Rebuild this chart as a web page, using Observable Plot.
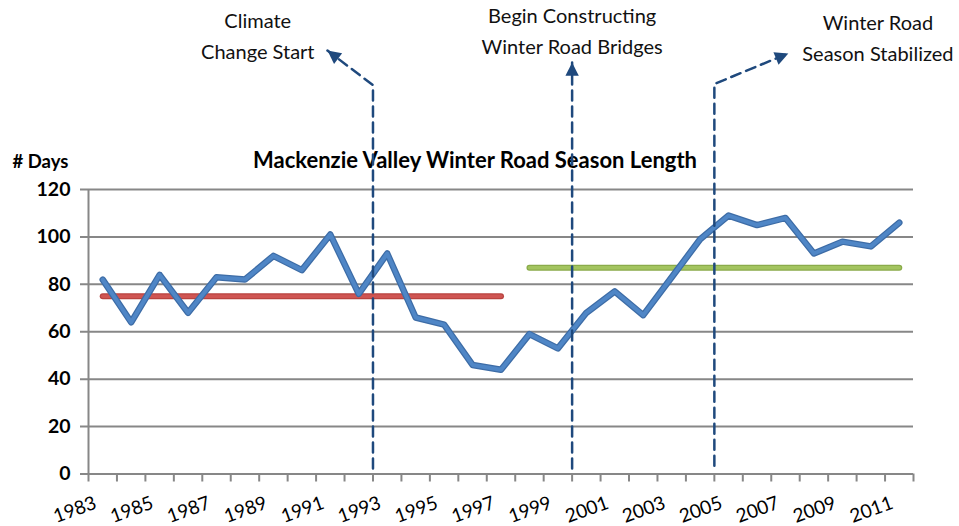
<!DOCTYPE html>
<html>
<head>
<meta charset="utf-8">
<script src="https://cdn.jsdelivr.net/npm/d3@7"></script>
<script src="https://cdn.jsdelivr.net/npm/@observablehq/plot@0.6"></script>
<style>
  html, body { margin: 0; padding: 0; background: #fff; }
  #chart svg { display: block; }
</style>
</head>
<body>
<div id="chart"></div>
<script>
// ---- data ----
const years = [1983,1984,1985,1986,1987,1988,1989,1990,1991,1992,1993,1994,1995,1996,1997,
               1998,1999,2000,2001,2002,2003,2004,2005,2006,2007,2008,2009,2010,2011];
const days  = [82,64,84,68,83,82,92,86,101,76,93,66,63,46,44,
               59,53,68,77,67,83,99,109,105,108,93,98,96,106];

const earlyPeriod = [1983, 1997];
const earlyAverage = 75;
const latePeriod = [1998, 2011];
const lateAverage = 87;

const yTicks = [0, 20, 40, 60, 80, 100, 120];
const xLabelYears = [1983,1985,1987,1989,1991,1993,1995,1997,1999,2001,2003,2005,2007,2009,2011];
const xBoundaries = [1982.5, ...years.map(y => y + 0.5)];

const title = "Mackenzie Valley Winter Road Season Length";
const yTitle = "# Days";

// annotation leader paths (year, days units)
const climatePath   = [[1992.5, 2.3], [1992.5, 164], [1990.9, 178.6]];
const bridgePath    = [[1999.5, 2.3], [1999.5, 173.6]];
const stabilPath    = [[2004.5, 3.5], [2004.5, 164.5], [2007.1, 177.4]];
const annotationLabels = [
  {year: 1988.45, value: 185.8, text: "Climate\nChange Start"},
  {year: 1999.5,  value: 187.9, text: "Begin Constructing\nWinter Road Bridges"},
  {year: 2010.25, value: 184.8, text: "Winter Road\nSeason Stabilized"}
];

// ---- tables ----
const series = years.map((y, i) => ({year: y, value: days[i]}));
const early = earlyPeriod.map(y => ({year: y, value: earlyAverage}));
const late = latePeriod.map(y => ({year: y, value: lateAverage}));
const leaders = [
  ...climatePath.map(([x, v]) => ({id: "climate", year: x, value: v})),
  ...bridgePath.map(([x, v]) => ({id: "bridge", year: x, value: v})),
  ...stabilPath.map(([x, v]) => ({id: "stable", year: x, value: v}))
];

const font = "Lato, 'Open Sans', sans-serif";
const gridColor = "#878787";
const dashColor = "#1f497d";

const chart = Plot.plot({
  width: 959,
  height: 526,
  marginLeft: 88,
  marginRight: 46,
  marginTop: 189,
  marginBottom: 52.5,
  style: {fontFamily: font, background: "#fff"},
  x: {type: "linear", domain: [1982.5, 2011.5], axis: null},
  y: {domain: [0, 120], axis: null},
  marks: [
    // gridlines (extend left as tick marks)
    Plot.ruleY(yTicks, {stroke: gridColor, strokeWidth: 2, insetLeft: -8}),
    // y axis line
    Plot.ruleX([1982.5], {y1: 0, y2: 120, stroke: gridColor, strokeWidth: 2}),
    // x tick marks
    Plot.ruleX(xBoundaries, {y1: 0, y2: 0, insetBottom: -8, stroke: gridColor, strokeWidth: 2}),
    // y labels
    Plot.text(yTicks, {frameAnchor: "left", y: d => d, text: d => String(d), textAnchor: "end",
      dx: -18, fontWeight: "bold", fontSize: 19.5, fill: "#000"}),
    // x labels
    Plot.text(xLabelYears, {x: d => d, frameAnchor: "bottom", text: d => String(d), textAnchor: "end",
      rotate: -20, dy: 34, dx: -5, fontSize: 19, fill: "#000"}),
    // title and y title
    Plot.text([title], {frameAnchor: "top", text: d => d, dx: -26, dy: -37,
      fontWeight: "bold", fontSize: 22, fill: "#000", letterSpacing: "-0.3px"}),
    Plot.text([yTitle], {frameAnchor: "top-left", text: d => d, textAnchor: "start", dx: -76, dy: -35,
      fontWeight: "bold", fontSize: 18.5, fill: "#000"}),
    // period averages
    Plot.line(early, {x: "year", y: "value", stroke: "#b8433f", strokeWidth: 6, strokeLinecap: "round"}),
    Plot.line(early, {x: "year", y: "value", stroke: "#cf5552", strokeWidth: 3.5, strokeLinecap: "round"}),
    Plot.line(late, {x: "year", y: "value", stroke: "#8aab4a", strokeWidth: 6, strokeLinecap: "round"}),
    Plot.line(late, {x: "year", y: "value", stroke: "#a3c45f", strokeWidth: 3.5, strokeLinecap: "round"}),
    // series
    Plot.line(series, {x: "year", y: "value", stroke: "#3d6ca6", strokeWidth: 6.5, strokeLinejoin: "round", strokeLinecap: "round"}),
    Plot.line(series, {x: "year", y: "value", stroke: "#4f86c6", strokeWidth: 4, strokeLinejoin: "round", strokeLinecap: "round"}),
    // annotation leaders
    Plot.line(leaders, {x: "year", y: "value", z: "id", stroke: dashColor, strokeWidth: 2.5,
      strokeDasharray: "10,6", markerEnd: "arrow"}),
    // annotation labels
    Plot.text(annotationLabels, {x: "year", y: "value", text: "text", fontSize: 20, lineHeight: 1.53, fill: "#111"})
  ]
});

// filled arrowheads
d3.select(chart).selectAll("marker")
  .attr("fill", dashColor).attr("stroke", "none").attr("overflow", "visible")
  .selectAll("path").attr("d", "M-8,-4L0,0L-8,4Z");

document.getElementById("chart").appendChild(chart);
</script>
</body>
</html>
